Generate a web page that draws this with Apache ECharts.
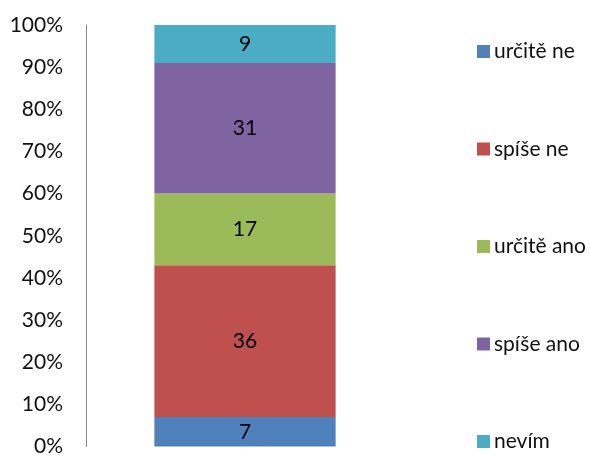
<!DOCTYPE html>
<html>
<head>
<meta charset="utf-8">
<script src="https://cdn.jsdelivr.net/npm/echarts@6/dist/echarts.min.js"></script>
<style>
    html, body { margin: 0; padding: 0; background: #fff; }
    #main { width: 590px; height: 457px; }
</style>
</head>
<body>
<div id="main"></div>
<script>
    var categories = [''];
    var seriesNames = ['určitě ne', 'spíše ne', 'určitě ano', 'spíše ano', 'nevím'];
    var seriesValues = [[7], [36], [17], [31], [9]];
    var colors = ['#4f81bd', '#c0504d', '#9bbb59', '#8064a2', '#4bacc6'];

    var chart = echarts.init(document.getElementById('main'));
    var font = 'Lato, "Open Sans", sans-serif';

    var series = seriesNames.map(function (name, i) {
        return {
            name: name,
            type: 'bar',
            stack: 'total',
            barWidth: '57%',
            data: seriesValues[i],
            itemStyle: { color: colors[i] },
            label: {
                show: true,
                position: 'inside',
                color: '#000',
                fontSize: 21,
                fontFamily: font
            }
        };
    });

    chart.setOption({
        animation: false,
        color: colors,
        grid: { left: 86, right: 186, top: 25, bottom: 9 },
        legend: {
            orient: 'vertical',
            left: 472,
            top: 36,
            height: 420,
            itemWidth: 13,
            itemHeight: 13,
            itemGap: 76.5,
            icon: 'rect',
            data: seriesNames,
            textStyle: { color: '#111', fontSize: 21, lineHeight: 20, fontFamily: font, padding: [0, 0, 0, -1] }
        },
        xAxis: {
            type: 'category',
            data: categories,
            axisLine: { show: false },
            axisTick: { show: false },
            axisLabel: { show: false }
        },
        yAxis: {
            type: 'value',
            min: 0,
            max: 100,
            interval: 10,
            axisLine: { show: true, lineStyle: { color: '#868686' } },
            axisTick: { show: false },
            splitLine: { show: false },
            axisLabel: {
                formatter: '{value}%',
                color: '#111',
                fontSize: 21,
                fontFamily: font,
                margin: 23
            }
        },
        series: series
    });
</script>
</body>
</html>
